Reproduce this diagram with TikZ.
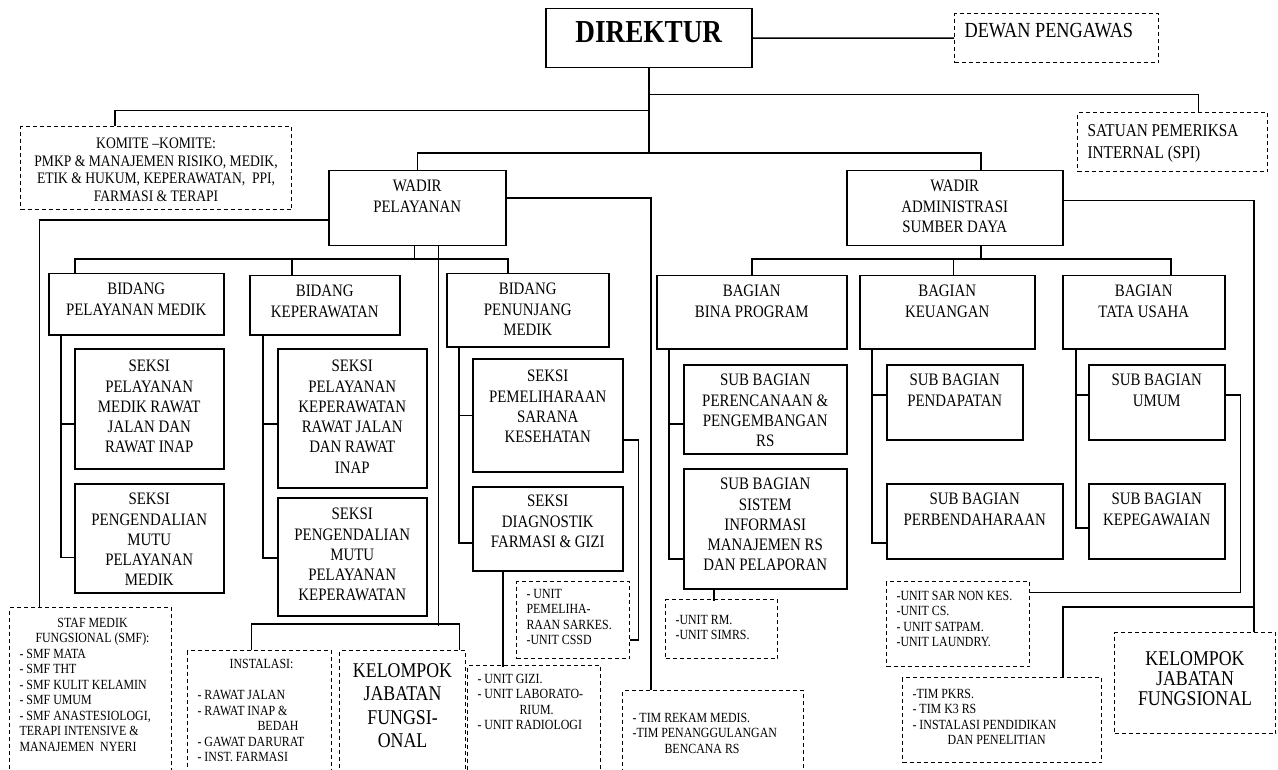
\documentclass[tikz,border=0pt]{standalone}
\usepackage{fontspec}
\setmainfont{Liberation Serif}[FakeStretch=0.85]
\usepackage{tikz}

% font sizes of the chart
\newcommand{\orghead}{\fontsize{32}{36}\selectfont\bfseries}
\newcommand{\orgbody}{\fontsize{17.5}{20.3}\selectfont}
\newcommand{\orgsmall}{\fontsize{14}{15.5}\selectfont}
\newcommand{\orgkomite}{\fontsize{16}{17.5}\selectfont}
\newcommand{\orgbig}{\fontsize{21}{23.3}\selectfont}
\newcommand{\listalign}{\raggedright\leftskip=4pt\relax}
\newcommand{\midline}[1]{\hfill#1\hfill\null}
% box text: [alignment]{box width}{box height}{first baseline}{text}
\newcommand{\boxtxt}[5][\centering]{\parbox[t][#3][t]{\dimexpr#2-12pt\relax}{#1\rule{0pt}{#4}#5}}

\tikzset{
  box/.style={draw, line width=1.5pt, anchor=north west, inner xsep=6pt, inner ysep=0pt, font=\orgbody}, % solid unit box
  dbox/.style={box, line width=1.1pt, dash pattern=on 4pt off 3pt, font=\orgsmall}, % dashed box for staff, teams and units
  link/.style={line width=1.5pt}, % lines of command
}

\begin{document}
\begin{tikzpicture}[x=1pt, y=-1pt]
    \path[use as bounding box, fill=white] (0,0) rectangle (1278,770);

    % top
    \node[box, font=\orghead] (dir) at (545,8) {\boxtxt{206pt}{59pt}{34pt}{DIREKTUR}};
    \node[dbox, font=\fontsize{21.5}{24}\selectfont] (dewan) at (954,13) {\boxtxt[\listalign]{204pt}{49pt}{24pt}{DEWAN PENGAWAS}};
    \node[dbox, font=\orgkomite] (komite) at (20,126) {\boxtxt{271pt}{83pt}{22pt}{KOMITE –KOMITE:\\PMKP \& MANAJEMEN RISIKO, MEDIK,\\ETIK \& HUKUM, KEPERAWATAN,~ PPI,\\FARMASI \& TERAPI}};
    \node[dbox, font=\fontsize{18}{22}\selectfont] (spi) at (1077,112) {\boxtxt[\listalign]{190pt}{59pt}{24pt}{SATUAN PEMERIKSA\\INTERNAL (SPI)}};
    \node[box] (wp) at (328,170) {\boxtxt{177pt}{75pt}{21pt}{WADIR\\PELAYANAN}};
    \node[box] (wa) at (846,170) {\boxtxt{216pt}{75pt}{21pt}{WADIR\\ADMINISTRASI\\SUMBER DAYA}};

    % bidang and bagian
    \node[box] (bpm) at (48,273) {\boxtxt{175pt}{61pt}{21pt}{BIDANG\\PELAYANAN MEDIK}};
    \node[box] (bkep) at (249,275) {\boxtxt{150pt}{59pt}{21pt}{BIDANG\\KEPERAWATAN}};
    \node[box] (bpn) at (446,273) {\boxtxt{162pt}{73pt}{21pt}{BIDANG\\PENUNJANG\\MEDIK}};
    \node[box] (bina) at (656,275) {\boxtxt{190pt}{73pt}{21pt}{BAGIAN\\BINA PROGRAM}};
    \node[box] (bkeu) at (859,275) {\boxtxt{175pt}{73pt}{21pt}{BAGIAN\\KEUANGAN}};
    \node[box] (btu) at (1062,275) {\boxtxt{162pt}{73pt}{21pt}{BAGIAN\\TATA USAHA}};

    % seksi and sub bagian
    \node[box] (spm1) at (74,348) {\boxtxt{149pt}{120pt}{23pt}{SEKSI\\PELAYANAN\\MEDIK RAWAT\\JALAN DAN\\RAWAT INAP}};
    \node[box] (spm2) at (74,483) {\boxtxt{149pt}{109pt}{21pt}{SEKSI\\PENGENDALIAN\\MUTU\\PELAYANAN\\MEDIK}};
    \node[box] (sk1) at (277,348) {\boxtxt{149pt}{139pt}{23pt}{SEKSI\\PELAYANAN\\KEPERAWATAN\\RAWAT JALAN\\DAN RAWAT\\INAP}};
    \node[box] (sk2) at (277,497) {\boxtxt{149pt}{118pt}{22pt}{SEKSI\\PENGENDALIAN\\MUTU\\PELAYANAN\\KEPERAWATAN}};
    \node[box] (spem) at (472,358) {\boxtxt{150pt}{113pt}{23pt}{SEKSI\\PEMELIHARAAN\\SARANA\\KESEHATAN}};
    \node[box] (sdiag) at (472,486) {\boxtxt{150pt}{84pt}{20pt}{SEKSI\\DIAGNOSTIK\\FARMASI \& GIZI}};
    \node[box] (sren) at (683,364) {\boxtxt{163pt}{89pt}{21pt}{SUB BAGIAN\\PERENCANAAN \&\\PENGEMBANGAN\\RS}};
    \node[box] (ssim) at (683,468) {\boxtxt{163pt}{120pt}{21pt}{SUB BAGIAN\\SISTEM\\INFORMASI\\MANAJEMEN RS\\DAN PELAPORAN}};
    \node[box] (spend) at (886,364) {\boxtxt{136pt}{75pt}{21pt}{SUB BAGIAN\\PENDAPATAN}};
    \node[box] (sperb) at (886,483) {\boxtxt{176pt}{75pt}{21pt}{SUB BAGIAN\\PERBENDAHARAAN}};
    \node[box] (sumum) at (1088,364) {\boxtxt{136pt}{75pt}{21pt}{SUB BAGIAN\\UMUM}};
    \node[box] (skep) at (1088,483) {\boxtxt{136pt}{75pt}{21pt}{SUB BAGIAN\\KEPEGAWAIAN}};

    % staff, instalasi, units and teams
    \node[dbox] (smf) at (9,607) {\boxtxt[\listalign]{162pt}{170pt}{19.6pt}{\midline{STAF MEDIK}\\\midline{FUNGSIONAL (SMF):}\\- SMF MATA\\- SMF THT\\- SMF KULIT KELAMIN\\- SMF UMUM\\- SMF ANASTESIOLOGI,\\TERAPI INTENSIVE \&\\MANAJEMEN~ NYERI}};
    \node[dbox] (inst) at (187,650) {\boxtxt[\listalign]{144pt}{125pt}{17.6pt}{\midline{INSTALASI:}\\[16pt]- RAWAT JALAN\\- RAWAT INAP \&\\\hspace*{60pt}BEDAH\\- GAWAT DARURAT\\- INST. FARMASI}};
    \node[dbox, font=\orgbig] (kjf1) at (339,650) {\boxtxt{126pt}{125pt}{27pt}{KELOMPOK\\JABATAN\\FUNGSI-\\ONAL}};
    \node[dbox] (ugizi) at (467,665) {\boxtxt[\listalign]{133pt}{110pt}{17.6pt}{- UNIT GIZI.\\- UNIT LABORATO-\\\hspace*{42pt}RIUM.\\- UNIT RADIOLOGI}};
    \node[dbox] (upem) at (516,581) {\boxtxt[\listalign]{113pt}{77pt}{16.6pt}{- UNIT\\PEMELIHA-\\RAAN SARKES.\\-UNIT CSSD}};
    \node[dbox] (timrm) at (622,690) {\boxtxt[\listalign]{181pt}{85pt}{31.6pt}{- TIM REKAM MEDIS.\\-TIM PENANGGULANGAN\\\hspace*{32pt}BENCANA RS}};
    \node[dbox] (urm) at (665,599) {\boxtxt[\listalign]{112pt}{59pt}{24.6pt}{-UNIT RM.\\-UNIT SIMRS.}};
    \node[dbox] (usar) at (886,581) {\boxtxt[\listalign]{143pt}{85pt}{18.6pt}{-UNIT SAR NON KES.\\-UNIT CS.\\- UNIT SATPAM.\\-UNIT LAUNDRY.}};
    \node[dbox] (timpk) at (902,677) {\boxtxt[\listalign]{199pt}{85pt}{20.6pt}{-TIM PKRS.\\- TIM K3 RS\\- INSTALASI PENDIDIKAN\\\hspace*{35pt}DAN PENELITIAN}};
    \node[dbox, font=\fontsize{21}{20}\selectfont] (kjf2) at (1114,632) {\boxtxt{161pt}{101pt}{33pt}{KELOMPOK\\JABATAN\\FUNGSIONAL}};

    % lines from direktur
    \draw[link] (dir.east) -- (dewan.west);
    \draw[link] (dir.south) -- ++(0,86);
    \draw[link] (dir.south) ++(0,26) -| ([xshift=26pt]spi.north);
    \draw[link] (dir.south) ++(0,42) -| ([xshift=-41pt]komite.north);
    \draw[link] (wp.north) -- ++(0,-17) -| ([xshift=26pt]wa.north);

    % lines from wadir pelayanan
    \draw[link] ([yshift=-12pt]wp.west) -| ([xshift=-51pt]smf.north);
    \draw[link] ([yshift=10pt]wp.east) -| ([xshift=-62pt]timrm.north);
    \draw[link] ([xshift=-61.5pt]bpm.north) -- ++(0,-14) -| ([xshift=-20pt]bpn.north);
    \draw[link] ([xshift=-33pt]bkep.north) -- ++(0,-16);
    \draw[link] ([xshift=-3pt]wp.south) -- ++(0,14);
    \draw[link] ([xshift=21pt]wp.south) -- ++(0,379);
    \draw[link] ([xshift=-8pt]inst.north) -- ++(0,-26) -| ([xshift=57pt]kjf1.north);

    \draw[link] ([xshift=13pt]bpm.south west) |- ([yshift=-15pt]spm1.west);
    \draw[link] ([xshift=13pt]bpm.south west) |- ([yshift=-19pt]spm2.west);
    \draw[link] ([xshift=14pt]bkep.south west) |- ([yshift=-5.5pt]sk1.west);
    \draw[link] ([xshift=14pt]bkep.south west) |- ([yshift=-1pt]sk2.west);
    \draw[link] ([xshift=13pt]bpn.south west) |- (spem.west);
    \draw[link] ([xshift=13pt]bpn.south west) |- ([yshift=-14pt]sdiag.west);
    \draw[link] ([yshift=-24.5pt]spem.east) -- ++(15,0) |- ([yshift=-20pt]upem.east);
    \draw[link] ([xshift=-45pt]sdiag.south) -- ++(0,95);

    % lines from wadir administrasi
    \draw[link] (bina.north) -- ++(0,-16) -| ([xshift=27pt]btu.north);
    \draw[link] ([xshift=26pt]wa.south) -- ++(0,14);
    \draw[link] ([xshift=6pt]bkeu.north) -- ++(0,-16);
    \draw[link] ([yshift=7.5pt]wa.east) -| ([xshift=59pt]kjf2.north);
    \draw[link] ([xshift=61pt]timpk.north) -- ++(0,-70) -| ([xshift=59pt]kjf2.north);

    \draw[link] ([xshift=13pt]bina.south west) |- ([yshift=-14.5pt]sren.west);
    \draw[link] ([xshift=13pt]bina.south west) |- ([yshift=-30pt]ssim.west);
    \draw[link] ([xshift=-51.5pt]ssim.south) -- ++(0,11);
    \draw[link] ([xshift=13pt]bkeu.south west) |- ([yshift=7.5pt]spend.west);
    \draw[link] ([xshift=13pt]bkeu.south west) |- ([yshift=-21.5pt]sperb.west);
    \draw[link] ([xshift=14pt]btu.south west) |- ([yshift=7.5pt]sumum.west);
    \draw[link] ([xshift=14pt]btu.south west) |- ([yshift=-6.5pt]skep.west);
    \draw[link] ([yshift=7.5pt]sumum.east) -- ++(15,0) |- ([yshift=31.5pt]usar.east);

\end{tikzpicture}
\end{document}
